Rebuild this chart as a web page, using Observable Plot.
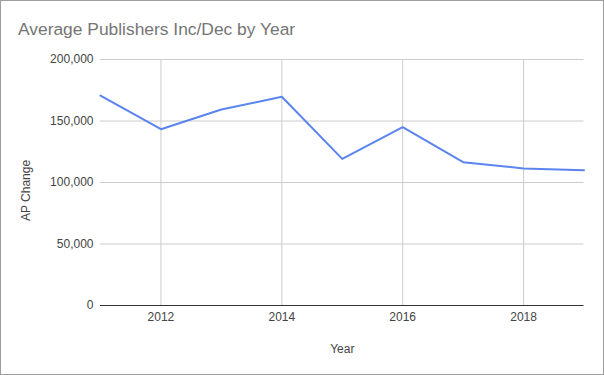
<!DOCTYPE html>
<html>
<head>
<meta charset="utf-8">
<script src="https://cdn.jsdelivr.net/npm/d3@7"></script>
<script src="https://cdn.jsdelivr.net/npm/@observablehq/plot@0.6"></script>
<style>
  html, body { margin: 0; padding: 0; background: #fff; }
  #wrap { position: relative; width: 604px; height: 375px; overflow: hidden; }
  #chart { position: absolute; left: 0; top: 0; }
  #title { position: absolute; left: 18px; top: 21px; font: 17.4px "Liberation Sans", Arial, sans-serif; line-height: 1; color: #757575; white-space: nowrap; }
  #border { position: absolute; left: 0; top: 0; width: 604px; height: 375px; box-sizing: border-box; border: 1px solid #9e9e9e; pointer-events: none; }
</style>
</head>
<body>
<div id="wrap">
  <div id="chart"></div>
  <div id="title">Average Publishers Inc/Dec by Year</div>
  <div id="border"></div>
</div>
<script>
const years = [2011, 2012, 2013, 2014, 2015, 2016, 2017, 2018, 2019];
const apChange = [170700, 143300, 159300, 169700, 119200, 145000, 116500, 111400, 110000];
const xTicks = [2012, 2014, 2016, 2018];
const yTicks = [0, 50000, 100000, 150000, 200000];

const data = years.map((y, i) => ({year: y, value: apChange[i]}));
const font = '"Liberation Sans", Arial, sans-serif';

const chart = Plot.plot({
  width: 604,
  height: 375,
  marginLeft: 100,
  marginRight: 20.5,
  marginTop: 59,
  marginBottom: 70,
  style: {fontFamily: font, fontSize: "12px", color: "#444", background: "transparent"},
  x: {domain: [2011, 2019]},
  y: {domain: [0, 200000]},
  marks: [
    Plot.gridX(xTicks, {stroke: "#cccccc", strokeOpacity: 1}),
    Plot.gridY(yTicks.filter(d => d !== 0), {stroke: "#cccccc", strokeOpacity: 1}),
    Plot.axisX(xTicks, {tickSize: 0, tickPadding: 7, tickFormat: "d", label: "Year", labelAnchor: "center", labelArrow: "none", labelOffset: 47, fill: "#444"}),
    Plot.axisY(yTicks, {tickSize: 0, tickPadding: 7, tickFormat: d3.format(","), label: null, fill: "#444"}),
    Plot.text(["AP Change"], {frameAnchor: "left", dx: -74, dy: 8, rotate: -90, fill: "#444", textAnchor: "middle"}),
    Plot.ruleY([0], {stroke: "#333", strokeWidth: 1}),
    Plot.line(data, {x: "year", y: "value", stroke: "#5b84ee", strokeWidth: 2})
  ]
});
document.getElementById("chart").appendChild(chart);
</script>
</body>
</html>
